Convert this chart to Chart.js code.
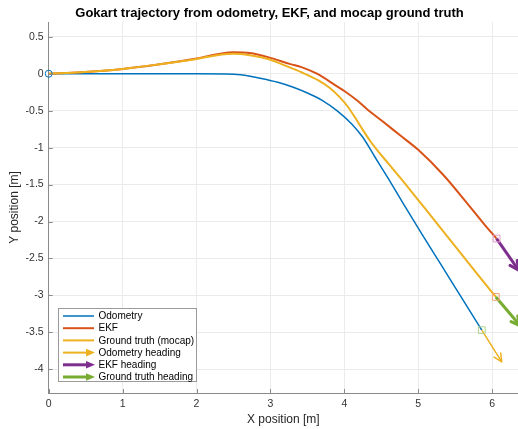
<!DOCTYPE html>
<html>
<head>
<meta charset="utf-8">
<script src="https://cdn.jsdelivr.net/npm/chart.js@4.4.1/dist/chart.umd.min.js"></script>
<style>
  html, body { margin: 0; padding: 0; background: #fff; }
</style>
</head>
<body>
<canvas id="traj" width="518" height="429"></canvas>
<script>
// trajectories (m)
const odoX = [0, 0.5, 1, 1.5, 2, 2.4, 2.6, 2.86, 3.1, 3.3, 3.5, 3.7, 3.9, 4.1, 4.25, 4.41, 4.59, 4.8, 5.05, 5.3, 5.58, 5.86];
const odoY = [0, 0, 0, 0, 0, -0.002, -0.015, -0.06, -0.115, -0.18, -0.26, -0.36, -0.5, -0.68, -0.86, -1.12, -1.41, -1.76, -2.17, -2.57, -3.02, -3.47];

const ekfX = [0, 0.44, 1, 1.48, 2, 2.34, 2.5, 2.72, 3.0, 3.27, 3.42, 3.63, 3.87, 4.01, 4.17, 4.32, 4.5, 4.75, 5.0, 5.34, 5.66, 5.88, 6.06];
const ekfY = [0, 0.02, 0.065, 0.125, 0.205, 0.275, 0.29, 0.28, 0.215, 0.13, 0.09, 0.0, -0.15, -0.24, -0.36, -0.49, -0.63, -0.83, -1.03, -1.37, -1.75, -2.02, -2.23];

const gtX = [0, 0.44, 1, 1.48, 2, 2.34, 2.5, 2.72, 3.0, 3.2, 3.42, 3.65, 3.8, 3.94, 4.05, 4.15, 4.25, 4.35, 4.45, 4.6, 4.75, 5.0, 5.25, 5.52, 5.8, 6.05];
const gtY = [0, 0.02, 0.065, 0.125, 0.2, 0.26, 0.27, 0.25, 0.19, 0.11, 0.02, -0.09, -0.19, -0.32, -0.45, -0.60, -0.76, -0.91, -1.04, -1.22, -1.40, -1.71, -2.02, -2.36, -2.71, -3.02];

// heading arrow tips: odometry, EKF, ground truth
const headTipX = [6.13, 6.36, 6.38];
const headTipY = [-3.90, -2.66, -3.41];

const xTicks = [0, 1, 2, 3, 4, 5, 6];
const yTicks = [0.5, 0, -0.5, -1, -1.5, -2, -2.5, -3, -3.5, -4];
const legendLabels = ['Odometry', 'EKF', 'Ground truth (mocap)', 'Odometry heading', 'EKF heading', 'Ground truth heading'];

const FONT = '"Liberation Sans", Arial, Helvetica, sans-serif';
const C = { blue: '#0072BD', red: '#D95319', yellow: '#EDB120', purple: '#7E2F8E', green: '#77AC30' };
const AXIS = '#8a8a8a';

const pts = (xs, ys) => xs.map((x, i) => ({ x, y: ys[i] }));
const last = a => a[a.length - 1];

const heading = (x0, y0, i, color, w) => ({
  data: [{ x: x0, y: y0 }, { x: headTipX[i], y: headTipY[i] }],
  showLine: true, borderColor: color, borderWidth: w, pointRadius: 0, arrowHead: true
});

const trace = (xs, ys, color, w) => ({
  data: pts(xs, ys), showLine: true, borderColor: color, borderWidth: w,
  pointRadius: 0, cubicInterpolationMode: 'monotone'
});

// the first dataset ends up on top
const datasets = [
  { data: [{ x: odoX[0], y: odoY[0] }], pointStyle: 'circle', pointRadius: 3.5,
    pointBorderColor: C.blue, pointBackgroundColor: 'transparent', pointBorderWidth: 1, clip: false },
  { data: [{ x: last(odoX), y: last(odoY) }, { x: last(ekfX), y: last(ekfY) }, { x: last(gtX), y: last(gtY) }],
    pointStyle: 'rect', pointRadius: 4.8, pointBorderWidth: 1,
    pointBorderColor: ['#b3d38f', '#e39ac0', '#f0a27f'], pointBackgroundColor: 'transparent', clip: false },
  heading(last(odoX), last(odoY), 0, C.yellow, 1.5),
  heading(last(ekfX), last(ekfY), 1, C.purple, 3),
  heading(last(gtX), last(gtY), 2, C.green, 3),
  trace(gtX, gtY, C.yellow, 2),
  trace(ekfX, ekfY, C.red, 2),
  trace(odoX, odoY, C.blue, 1.5)
];

const legendStyle = [
  { color: C.blue, w: 1.5 }, { color: C.red, w: 2 }, { color: C.yellow, w: 2 },
  { color: C.yellow, w: 2, arrow: true }, { color: C.purple, w: 3, arrow: true }, { color: C.green, w: 3, arrow: true }
];

const decor = {
  id: 'decor',
  afterDatasetsDraw(chart) {
    const ctx = chart.ctx, a = chart.chartArea;
    ctx.save();
    ctx.beginPath();
    ctx.rect(a.left, a.top, a.right - a.left, a.bottom - a.top);
    ctx.clip();
    chart.data.datasets.forEach((ds, i) => {
      if (!ds.arrowHead) return;
      const [p0, p1] = chart.getDatasetMeta(i).data;
      const ang = Math.atan2(p1.y - p0.y, p1.x - p0.x);
      const len = ds.borderWidth > 2 ? 10 : 9, spread = 0.45;
      ctx.strokeStyle = ds.borderColor;
      ctx.lineWidth = ds.borderWidth;
      ctx.lineCap = 'round';
      ctx.lineJoin = 'round';
      ctx.beginPath();
      ctx.moveTo(p1.x - len * Math.cos(ang - spread), p1.y - len * Math.sin(ang - spread));
      ctx.lineTo(p1.x, p1.y);
      ctx.lineTo(p1.x - len * Math.cos(ang + spread), p1.y - len * Math.sin(ang + spread));
      ctx.stroke();
    });
    ctx.restore();
  },
  afterDraw(chart) {
    const ctx = chart.ctx, a = chart.chartArea;
    const xs = chart.scales.x, ys = chart.scales.y;
    ctx.save();

    // inward tick marks, matlab style
    ctx.strokeStyle = AXIS;
    ctx.lineWidth = 1;
    ctx.beginPath();
    xTicks.forEach(v => {
      const px = Math.round(xs.getPixelForValue(v)) + 0.5;
      ctx.moveTo(px, a.bottom); ctx.lineTo(px, a.bottom - 4);
    });
    yTicks.forEach(v => {
      const py = Math.round(ys.getPixelForValue(v)) + 0.5;
      ctx.moveTo(a.left, py); ctx.lineTo(a.left + 4, py);
    });
    ctx.stroke();

    // title
    ctx.fillStyle = '#000';
    ctx.font = 'bold 13px ' + FONT;
    ctx.textAlign = 'center';
    ctx.textBaseline = 'middle';
    ctx.fillText('Gokart trajectory from odometry, EKF, and mocap ground truth', 269.5, 13.5);

    // legend box
    const bx = 58.5, by = 308.5, bw = 138, bh = 73;
    ctx.fillStyle = '#fff';
    ctx.fillRect(bx, by, bw, bh);
    ctx.strokeStyle = '#9a9a9a';
    ctx.strokeRect(bx, by, bw, bh);
    ctx.font = '10px ' + FONT;
    ctx.textAlign = 'left';
    legendLabels.forEach((txt, i) => {
      const st = legendStyle[i];
      const y = 316 + i * 12.2;
      ctx.strokeStyle = st.color;
      ctx.fillStyle = st.color;
      ctx.lineWidth = st.w;
      ctx.lineCap = 'butt';
      ctx.beginPath();
      ctx.moveTo(63, y);
      ctx.lineTo(st.arrow ? 87 : 94, y);
      ctx.stroke();
      if (st.arrow) {
        ctx.beginPath();
        ctx.moveTo(86, y - 3.8);
        ctx.lineTo(95, y);
        ctx.lineTo(86, y + 3.8);
        ctx.closePath();
        ctx.fill();
      }
      ctx.fillStyle = '#000';
      ctx.fillText(txt, 98.5, y + 0.5);
    });
    ctx.restore();
  }
};

new Chart(document.getElementById('traj'), {
  type: 'scatter',
  data: { datasets },
  options: {
    responsive: false,
    animation: false,
    layout: { autoPadding: false, padding: { top: 22, left: 0, right: 0, bottom: 0 } },
    plugins: { legend: { display: false }, tooltip: { enabled: false } },
    elements: { line: { tension: 0 } },
    scales: {
      x: {
        type: 'linear', min: 0, max: 6.35,
        afterBuildTicks: s => { s.ticks = xTicks.map(v => ({ value: v })); },
        afterFit: s => { s.height = 36; s.paddingLeft = 0; s.paddingRight = 0; },
        grid: { color: '#ebebeb', drawTicks: false },
        border: { color: AXIS },
        ticks: { padding: 5, color: '#333', font: { family: FONT, size: 10.5 }, callback: v => String(v) },
        title: { display: true, text: 'X position [m]', color: '#262626', font: { family: FONT, size: 12 }, padding: { top: 0, bottom: 2 } }
      },
      y: {
        type: 'linear', min: -4.32, max: 0.70,
        afterBuildTicks: s => { s.ticks = yTicks.map(v => ({ value: v })); },
        afterFit: s => { s.width = 48.7; s.paddingTop = 0; s.paddingBottom = 0; },
        grid: { color: '#ebebeb', drawTicks: false },
        border: { color: AXIS },
        ticks: { padding: 5, color: '#333', font: { family: FONT, size: 10.5 }, callback: v => String(v) },
        title: { display: true, text: 'Y position [m]', color: '#262626', font: { family: FONT, size: 12 }, padding: { top: 7.5, bottom: 0 } }
      }
    }
  },
  plugins: [decor]
});
</script>
</body>
</html>
